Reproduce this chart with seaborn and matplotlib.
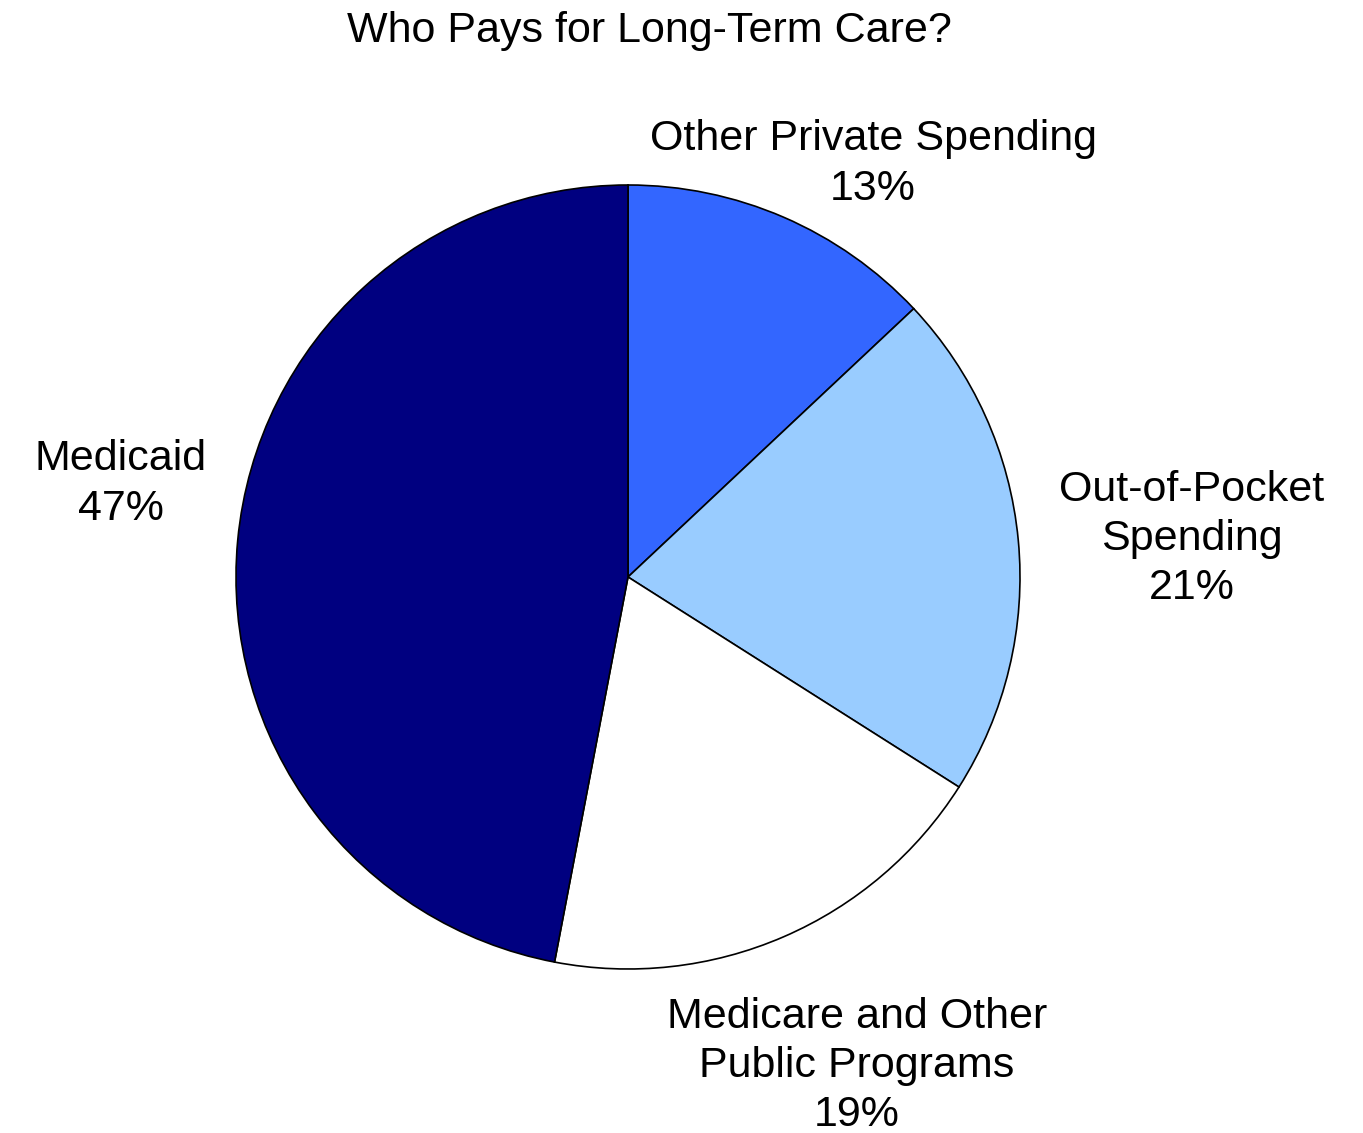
import matplotlib
matplotlib.use("Agg")
import matplotlib.pyplot as plt
import seaborn as sns

# Dados do gráfico
categorias = ["Other Private Spending", "Out-of-Pocket Spending",
              "Medicare and Other Public Programs", "Medicaid"]
rotulos = ["Other Private Spending", "Out-of-Pocket\nSpending",
           "Medicare and Other\nPublic Programs", "Medicaid"]
valores = [13, 21, 19, 47]
cores = ["#3366FF", "#99CCFF", "#FFFFFF", "#000080"]
titulo = "Who Pays for Long-Term Care?"

sns.set_theme(style="white")
plt.rcParams['font.family'] = ['Liberation Sans', 'DejaVu Sans']

W, H = 1363, 1133
fig = plt.figure(figsize=(W / 100, H / 100), dpi=100)
ax = fig.add_axes([0, 0, 1, 1])

# pizza em coordenadas de pixel
ax.pie(valores, colors=cores, startangle=90, counterclock=False,
       center=(628, H - 577), radius=392,
       wedgeprops=dict(edgecolor="black", linewidth=1.2))
ax.set_xlim(0, W)
ax.set_ylim(0, H)
ax.set_aspect("equal")
ax.axis("off")

# posicao de cada rotulo (centro do bloco de texto, em pixels)
pos_rotulos = [(873, 164), (1192, 539), (857, 1066), (121, 484)]
for rot, v, (x, y) in zip(rotulos, valores, pos_rotulos):
    ax.text(x, H - y, f"{rot}\n{v}%", ha="center", va="center",
            multialignment="center", fontsize=31, linespacing=1.3,
            color="black")

ax.text(649, H - 31, titulo, ha="center", va="center", fontsize=31, color="black")

fig.savefig("out.png", dpi=100)
